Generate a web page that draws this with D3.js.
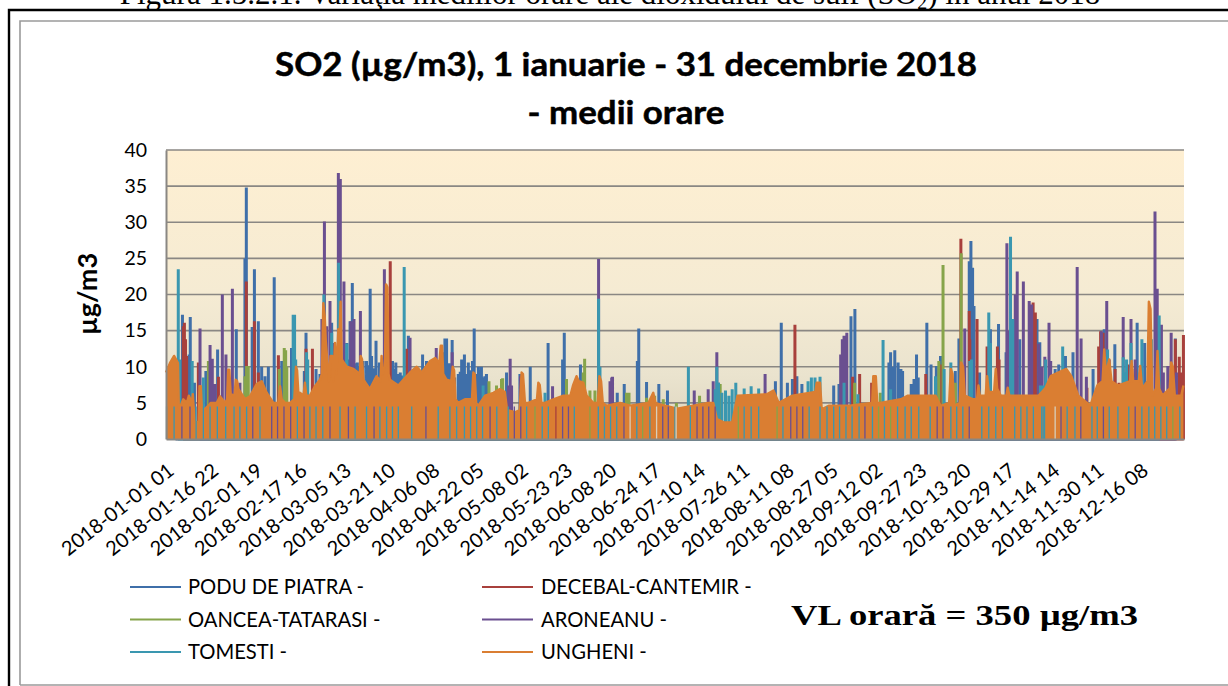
<!DOCTYPE html>
<html><head><meta charset="utf-8">
<script src="https://cdn.jsdelivr.net/npm/d3@7/dist/d3.min.js"></script>
<style>html,body{margin:0;padding:0;background:#fff;overflow:hidden}svg{display:block}</style>
</head><body><div id="c"></div>
<script>
const yTicks=[0,5,10,15,20,25,30,35,40];
const xLabels=["2018-01-01 01","2018-01-16 22","2018-02-01 19","2018-02-17 16","2018-03-05 13","2018-03-21 10","2018-04-06 08","2018-04-22 05","2018-05-08 02","2018-05-23 23","2018-06-08 20","2018-06-24 17","2018-07-10 14","2018-07-26 11","2018-08-11 08","2018-08-27 05","2018-09-12 02","2018-09-27 23","2018-10-13 20","2018-10-29 17","2018-11-14 14","2018-11-30 11","2018-12-16 08"];
const labelStepHours=381;
const legendNames=["PODU DE PIATRA -","DECEBAL-CANTEMIR -","OANCEA-TATARASI -","ARONEANU -","TOMESTI -","UNGHENI -"];
// [day of year, µg/m3] peaks
const podu=[[3.5,10.8],[5,9],[5.9,17.2],[8.3,11.7],[8.7,16.9],[10.2,7.8],[14.3,9.4],[18.5,12.4],[25.2,15.2],[28.3,25],[28.8,34.8],[30.9,15.5],[31.7,23.5],[33.1,16.3],[34.3,10],[35.5,8.7],[36.7,10],[38.8,22.4],[41.5,10.8],[45,12.6],[49.6,9.4],[50.2,14.7],[53.8,9.7],[55.2,9],[59.4,16.1],[62.5,9],[64.8,13.3],[65.5,11],[66,16.3],[66.8,21.6],[67.5,10.5],[68.6,10.6],[69.5,10],[70.7,10.8],[71.9,10.8],[72.5,10.2],[73.2,20.8],[73.7,11.5],[74.5,9.8],[75.3,13.6],[76.5,10.6],[78,9],[79.5,9.5],[81.2,10.8],[81.8,9.7],[82.4,10.6],[83,9],[84,9.2],[85,8.8],[86.9,14.3],[88,9],[89,9.2],[90.5,8.5],[92,11.7],[93.4,10.8],[94.6,9.7],[95,9],[96,9],[97,8.5],[99,9.5],[99.4,12],[100,13.9],[100.6,13.9],[101.5,10.5],[102.6,13.7],[103.5,8.5],[104.8,9],[105.5,9.3],[106,11],[107,11.7],[107.7,9],[108.4,10.6],[109,9.5],[109.9,10.8],[110.5,15.3],[111.3,9],[112,10],[112.7,9.5],[113.1,10],[113.7,8.5],[114.3,8.7],[114.9,9],[115.5,7.5],[122.1,9.2],[126.9,9],[130.6,10],[137,13.3],[142.2,11],[142.8,14.7],[148.6,10.3],[161.8,6.4],[164.3,7.6],[169,10.8],[169.5,15.3],[172.3,7.9],[176.7,7.6],[179.8,6.7],[218.5,8],[220.6,16.1],[222.8,7.8],[224.6,8.3],[226.2,8.7],[228,7.6],[239.4,7.4],[241.3,7.6],[245.6,17],[247,18],[259.2,10.6],[259.8,12],[260.4,10],[261.3,12.3],[262.5,10.6],[263.5,9.7],[264.1,9.4],[267.2,7.6],[268.2,8.3],[269.1,11.7],[269.7,8.5],[272.8,16.1],[274.3,10.3],[276.2,10.1],[277.7,11.5],[283,9.4],[284.3,13.9],[288,24.6],[288.6,27.4],[289.2,23.7],[289.7,18.4],[291.7,9.2],[295.6,15.2],[298.5,15.9],[301.2,12],[306.1,13.8],[312.3,16.6],[313.3,13.4],[318.8,9.7],[320.1,10.3],[322.5,11.5],[325.2,12],[332.4,9.7],[336.4,15.2],[340.2,13.1],[348.2,16.1],[350.9,13.3],[361.9,13.9]];
const decebal=[[6.2,15.6],[6.6,16.1],[7,13.8],[7.4,11.5],[11.6,10.6],[18.8,8.6],[28.8,21.8],[31.7,16.3],[33.1,9.2],[40.3,11.6],[50.2,12.5],[52.5,12.5],[80.4,24.6],[86.3,12.5],[225.5,15.8],[246.2,8.6],[248.7,9],[253,7.8],[272.4,9],[277.8,10.3],[285,27.7],[288,17.7],[288.2,13.8],[290.8,16.6],[294.4,12.8],[298.1,12.8],[298.7,11],[310.9,18.9],[311.7,17.5],[330.2,7.1],[334.4,12.8],[335.1,14.9],[336,14.7],[340.3,9.7],[341.7,7.8],[345,10.3],[347.5,9.7],[349.3,9.2],[361.9,13.8],[363.3,11.4],[364.2,9.2],[364.8,14.4]];
const oancea=[[15.2,10.8],[28.3,8.7],[28.9,10.1],[29.5,10.1],[40.6,9.7],[42.4,12.6],[42.9,12.3],[43.3,10],[115.8,8],[118.5,7.4],[120.3,8.3],[120.7,8.4],[143.6,8.3],[149.6,9.2],[150.1,11.1],[152,6.7],[153.8,6.7],[165.1,6.4],[166,6.4],[172.3,5.7],[175.2,6],[178.3,5.5],[183,5],[191.3,6],[198.7,7.6],[246.9,7.8],[256.1,6.4],[277.1,10.8],[278.6,24.1],[283,7.8],[285.1,25.7]];
const aroneanu=[[12.2,15.3],[15.8,13],[16.6,11.1],[17.6,7.6],[20.2,20],[21.5,11.7],[23.8,20.8],[26.5,7.8],[55.9,16.6],[56.8,30.1],[57.6,15.6],[58.8,19.1],[60,13.3],[61.8,36.8],[62.5,36],[63.8,21.8],[66.3,16.3],[67.4,16.6],[69.7,17.7],[78.3,23.5],[87.5,14],[96.9,12.6],[102.6,12],[122.8,7.4],[123.4,11.1],[123.9,7.4],[127.1,8.7],[138.6,7.3],[155.1,24.9],[159.2,8],[159.8,8.5],[160.1,8.6],[189.4,6.7],[194.4,6.9],[196.2,8],[197.5,12],[198.1,7.8],[214.8,9],[241.9,11.7],[242.5,13.8],[243.1,14.3],[244.1,14.7],[286.4,15.3],[301.5,27.1],[302,15],[304.5,20],[305.2,23.2],[307.4,21.8],[309.5,19.1],[310.4,18.6],[312.9,13.2],[313.9,10],[315.1,11.4],[316.6,16.1],[317.2,10.8],[326.7,23.8],[328.1,13.9],[330,8.6],[335.4,14.9],[337.3,19.1],[338.2,11],[343.2,16.9],[346,16.6],[347.5,11],[354.6,31.5],[355.4,20.8],[356.9,15.8],[357.6,9.2],[359.2,10.1],[360.4,14.7],[362.3,9.2]];
const tomesti=[[4.4,23.5],[4.9,11],[9.4,10.8],[13.4,8.5],[45.6,17.2],[46.1,17.2],[46.5,11],[50.4,12],[50.8,11],[56.6,20],[59.4,14.7],[61.9,24.4],[64.8,13.2],[85.4,23.8],[113.7,7.4],[135.9,6.4],[155.1,19.4],[155.6,10],[187.3,10],[196.9,6.9],[197.5,10],[198.1,7.8],[199.3,6.4],[200.6,6.7],[201.8,6],[203,6.9],[204.3,7.8],[207.3,7],[209.8,7.3],[212.5,7],[230.2,8],[231.4,8.5],[232.7,8.5],[234.5,8.6],[243.1,7.8],[248.1,6.2],[257.1,13.7],[259.8,6.9],[275.9,8.7],[279,9.7],[281.4,10.6],[288.2,10.8],[288.8,11],[295,17.5],[295.6,13.3],[302.8,28],[303.6,16.6],[313.5,7.4],[314.1,7.4],[314.5,7.4],[315.3,7.4],[315.4,11],[321.5,12.8],[337.6,12.4],[343.2,11.3],[343.8,9.2],[344.4,11],[346,13.3],[349.9,13.8],[353.3,13.8],[356.1,17.1]];
const ungheni=[[0,9.2],[1.4,10.5],[2.9,11.5],[4.3,10.5],[4.6,4],[6.2,5.5],[7.5,5],[8.2,6],[9.3,5],[9.6,6.2],[10.3,2.3],[11.7,2.5],[12,7.3],[12.5,7.3],[12.9,3.8],[15.2,4.6],[16,5],[18.2,5],[19.4,5.9],[21.2,5],[21.9,5.5],[22.3,9.6],[22.7,9.6],[23.2,6.2],[24.6,6],[25,8.2],[25.5,8],[26,6.9],[28.3,5.5],[30.1,5.9],[32.5,7.6],[34.3,8],[36.1,6.4],[38.5,5],[40.3,5],[40.9,7.3],[41.5,5.5],[42.7,5],[44.5,5],[46,5.5],[46.6,10],[47,9.5],[47.5,6],[48,6.4],[49.3,6],[49.8,7.8],[50.3,6],[51.6,6],[53.4,7.3],[55.2,8.2],[55.9,9],[56.4,18.8],[56.9,17],[57.3,13.5],[58.4,8],[59,11.5],[59.6,11.5],[60,8],[60.6,13.3],[61.1,9],[61.8,15.2],[62.2,14],[62.6,19],[63,11],[64.8,10],[67.2,9.7],[69.5,9],[69.8,11.5],[70.3,11],[70.8,8.2],[73.1,6.9],[75.5,8.7],[76.9,8],[77.3,11.5],[77.8,9],[78.5,10],[78.9,21.4],[79.4,21],[79.8,9],[80.3,8.2],[83.3,7.4],[85.1,8.2],[87.5,9.2],[89.9,10],[91.7,9.2],[94.7,10.8],[96.5,11.2],[98,10.5],[98.5,12.9],[99,12.9],[99.4,9],[100.6,8.2],[102.3,8],[102.8,10],[103.3,9.5],[103.8,5.5],[104.8,5],[107.2,5.5],[109.7,5.5],[110.2,9.2],[110.7,9],[111.2,5],[112,4.6],[114.4,6],[117.4,6.4],[119.7,6.9],[121.5,6.5],[122.3,4],[125.1,3.7],[126.8,4],[127.5,9.2],[128,9],[128.7,5],[129.9,5],[133,5.5],[133.5,7.8],[134,7.5],[134.6,5],[135.9,5],[138.9,5.5],[142.5,6],[145,6],[146,7.5],[147.2,8.7],[148,8],[149.6,7.8],[150.8,6],[153.2,5],[154.8,5],[155.4,8.7],[156,8],[156.6,5],[158,4.6],[162.8,5],[166.4,4.6],[173,5],[174.7,6.4],[175.5,5],[177.1,4.8],[183.3,4.2],[194.4,5],[196.2,5],[197.5,2.8],[199.9,2.3],[203,2.3],[204.9,6],[215.4,6.2],[217.8,6.7],[219.7,5],[224.6,6],[232.8,6.5],[233.3,7.8],[234.5,7.8],[235.1,4.1],[237.6,4.6],[245,4.6],[253.2,5],[253.6,8.7],[254.5,8.7],[255,5],[256.1,5],[263.5,5.5],[266,6],[275.9,6],[277.7,4.6],[280.8,5],[281.4,9.7],[282,9],[282.6,4.6],[284.6,5],[285.1,10.6],[285.8,10],[286.4,6],[289.4,5.5],[290.8,5.5],[291.3,7.4],[291.8,6],[293.9,6],[294.4,8.7],[295,6.5],[296.9,6.5],[297.5,9.7],[298,7],[299.3,6],[301.3,6],[301.8,7.1],[302.4,6],[304.3,6],[312.9,6],[315.4,7.1],[317.2,8.7],[322.8,9.7],[324.6,8.7],[327.1,6],[331.4,4.6],[333.9,7.4],[335.8,8],[336.4,12.4],[337,9],[338.2,11],[339,8],[341.3,7.4],[345.7,8],[346.2,10.8],[346.8,8],[348.8,8],[349.3,10.1],[350,7],[351.9,8],[352.4,19],[353,18],[353.6,6],[355,7],[355.5,12.2],[356.1,7],[357.3,6],[359.9,7],[360.4,10.6],[361,10],[361.7,6],[364,6],[364.8,7.4]];
// days on which Ungheni falls away and another station shows through
const tomestiGaps=[0.2,2.9,10.8,13.4,15.8,18.4,21.4,24.4,26.5,28.9,33.7,47.1,51.6,53.8,56.2,62.4,67.8,71.9,76.7,79.1,81.2,83.3,88.1,97.6,101.8,104.2,107,109.2,111.4,113.5,118.6,122.7,129.3,134.9,137.1,146.4,155,157.2,159.4,161.6,168.8,173.5,182.5,188,207.3,209.8,212.5,221.2,230.6,234.5,237,239.4,241.5,243.8,246,248.5,253.3,257.6,262.3,265,267.2,269.9,274,281.4,283.5,285.7,292.5,295,297.5,299.9,304.3,306.5,308.7,311,314,314.5,315,323.1,325.9,332,333.9,338.2,341.3,345.2,349.9,352.4,354.5,356.7,358.8,363.5];
const aroneanuGaps=[5.7,8.6,31.1,37.9,40,42.3,44.7,49.5,58.8,65.4,74.6,93.2,116.2,124.9,127.2,142.2,144.3,164.2,178.1,180.1,190.4,192.5,194.6,196.9,224,226.2,228.3,250.6,276.5,278.6,288,320.9,328,336.1,347.5];
const oanceaGaps=[132.3,152,170.9,205.2,219.1,255.5,259.8,361];
const decebalGaps=[139.8];
const emptyGaps=[166.4,175.9,182.9,318.8];
const gapHeight=4.5;

const colors=["#3F6FA9","#A8403C","#86A44A","#6A4F90","#3A97B0","#DA7E32"];
const W=1228,H=686,L=166,R=1184,T=150,B=439;
const svg=d3.select("#c").append("svg").attr("width",W).attr("height",H);
const defs=svg.append("defs");
const g=defs.append("linearGradient").attr("id","bg").attr("x1",0).attr("x2",0).attr("y1",0).attr("y2",1);
[[0,"#FEEFD2"],[.5,"#F5EBD3"],[.78,"#EAE3CE"],[.92,"#E1D9C3"],[1,"#DDD5BE"]].forEach(s=>g.append("stop").attr("offset",s[0]).attr("stop-color",s[1]));

const sans="Lato, 'Open Sans', sans-serif", serif="'Liberation Serif', serif";
svg.append("path").attr("d","M9 686V10H1228").attr("fill","none").attr("stroke","#000").attr("stroke-width",2.4);
svg.append("path").attr("d","M20 685V21H1228").attr("fill","none").attr("stroke","#9A9A9A").attr("stroke-width",1.6);
svg.append("path").attr("d","M20 685H1228").attr("fill","none").attr("stroke","#9A9A9A").attr("stroke-width",1.6);

const cap=svg.append("text").attr("x",610).attr("y",3.5).attr("text-anchor","middle").attr("font-family",serif).attr("font-size",31).attr("fill","#000");
cap.append("tspan").text("Figura 1.5.2.1. Variaţia mediilor orare ale dioxidului de sulf (SO");
cap.append("tspan").attr("dy",5).attr("font-size",20).text("2");
cap.append("tspan").attr("dy",-5).text(") în anul 2018");

svg.append("text").attr("x",626).attr("y",76).attr("text-anchor","middle").attr("font-family",sans).attr("font-weight",700).attr("font-size",33).attr("stroke","#000").attr("stroke-width",0.5).attr("textLength",702).attr("lengthAdjust","spacingAndGlyphs").text("SO2 (µg/m3), 1 ianuarie - 31 decembrie 2018");
svg.append("text").attr("x",626).attr("y",123.5).attr("text-anchor","middle").attr("font-family",sans).attr("font-weight",700).attr("font-size",33).attr("stroke","#000").attr("stroke-width",0.5).attr("textLength",197).attr("lengthAdjust","spacingAndGlyphs").text("- medii orare");

const x=d3.scaleLinear().domain([0,365]).range([L,R]);
const y=d3.scaleLinear().domain([0,40]).range([B,T]);
svg.append("rect").attr("x",L).attr("y",T).attr("width",R-L).attr("height",B-T).attr("fill","url(#bg)");
svg.append("g").selectAll("line").data(yTicks.filter(v=>v>0)).join("line").attr("x1",L).attr("x2",R).attr("y1",d=>y(d)).attr("y2",d=>y(d)).attr("stroke","#8A8783").attr("stroke-width",1.7);

const spike=d3.line().x(d=>x(d[0])).y(d=>y(d[1]));
[podu,decebal,oancea,aroneanu,tomesti].forEach((s,i)=>{
  const pts=s.slice().sort((a,b)=>a[0]-b[0]).flatMap(p=>[[p[0],0],p,[p[0],0]]);
  svg.append("path").attr("d",spike(pts)).attr("fill","none").attr("stroke",colors[i]).attr("stroke-width",3).attr("stroke-linejoin","bevel");
});
const area=d3.area().x(d=>x(d[0])).y0(y(0)).y1(d=>y(d[1]));
svg.append("path").attr("d",area(ungheni)).attr("fill",colors[5]);
svg.append("path").attr("d",spike(ungheni)).attr("fill","none").attr("stroke",colors[5]).attr("stroke-width",2.4).attr("stroke-linejoin","round");

[[tomestiGaps,colors[4]],[aroneanuGaps,colors[3]],[oanceaGaps,colors[2]],[decebalGaps,colors[1]],[emptyGaps,"#D8CFBB"]].forEach(([days,c])=>{
  svg.append("g").selectAll("line").data(days).join("line").attr("x1",d=>x(d)).attr("x2",d=>x(d)).attr("y1",y(0)).attr("y2",y(gapHeight)).attr("stroke",c).attr("stroke-width",1.3);
});

const yAxis=d3.axisLeft(y).tickValues(yTicks).tickSize(0).tickPadding(19);
const ya=svg.append("g").attr("transform",`translate(${L},0)`).call(yAxis);
ya.select(".domain").attr("stroke","#8A8783").attr("stroke-width",2);
ya.selectAll("text").attr("font-family",sans).attr("font-size",19.5).attr("fill","#000");

const tickDays=xLabels.map((_,i)=>i*labelStepHours/24);
const xAxis=d3.axisBottom(x).tickValues(tickDays).tickFormat((d,i)=>xLabels[i]).tickSize(0);
const xa=svg.append("g").attr("transform",`translate(0,${B})`).call(xAxis);
xa.select(".domain").attr("stroke","#8A8783").attr("stroke-width",2);
xa.selectAll("text").attr("font-family",sans).attr("font-size",20).attr("fill","#000").attr("text-anchor","end").attr("dy",0).attr("y",0).attr("transform","translate(9,34) rotate(-38)");

svg.append("text").attr("transform","translate(97,294) rotate(-90)").attr("text-anchor","middle").attr("font-family",sans).attr("font-weight",700).attr("font-size",27).text("µg/m3");

const lg=svg.append("g").selectAll("g").data(legendNames).join("g").attr("transform",(d,i)=>`translate(${i%2?482:130},${[587,619.5,652][Math.floor(i/2)]})`);
lg.append("line").attr("x1",0).attr("x2",51).attr("stroke",(d,i)=>colors[i]).attr("stroke-width",2);
lg.append("text").attr("x",(d,i)=>i%2?59:58).attr("y",7).attr("font-family",sans).attr("font-size",20.2).attr("fill","#000").text(d=>d);

svg.append("text").attr("x",791).attr("y",625).attr("font-family",serif).attr("font-weight",700).attr("font-size",30).attr("textLength",347).attr("lengthAdjust","spacingAndGlyphs").text("VL orară = 350 µg/m3");
</script></body></html>
